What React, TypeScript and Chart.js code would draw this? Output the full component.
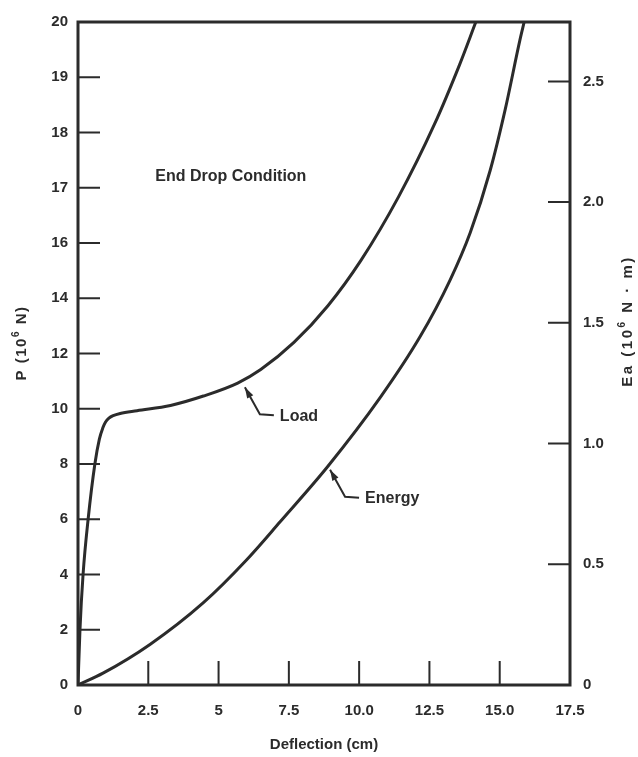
import React, { useEffect, useRef } from "react";
import { Chart, registerables } from "chart.js";

Chart.register(...registerables);

// ---- data ----
const xTickValues = [0, 2.5, 5, 7.5, 10, 12.5, 15, 17.5];
const xTickLabels = ["0", "2.5", "5", "7.5", "10.0", "12.5", "15.0", "17.5"];
// left axis is drawn with 13 equally spaced marks; the printed labels are these
const pTickValues = [0, 2, 4, 6, 8, 10, 12, 14, 16, 18, 20, 22, 24];
const pTickLabels = ["0", "2", "4", "6", "8", "10", "12", "14", "16", "17", "18", "19", "20"];
const eaTickValues = [0, 0.5, 1.0, 1.5, 2.0, 2.5];
const eaTickLabels = ["0", "0.5", "1.0", "1.5", "2.0", "2.5"];

// Load curve (deflection cm, position on the evenly spaced P scale)
const loadDeflection = [0, 0.07, 0.18, 0.36, 0.6, 0.76, 0.88, 0.98, 1.1, 1.25, 1.5, 2.1, 3.29, 4.46, 5.68, 6.5, 7.68, 8.89, 10.07, 11.4, 12.68, 13.57, 14.15];
const loadP = [0, 2, 4, 6, 8, 8.9, 9.3, 9.52, 9.66, 9.75, 9.83, 9.93, 10.12, 10.46, 10.93, 11.42, 12.4, 13.73, 15.38, 17.67, 20.3, 22.45, 24];

// Energy curve (deflection cm, Ea 10^6 N·m)
const energyDeflection = [0, 0.89, 2.56, 4.45, 6.01, 7.19, 8.89, 10.74, 12.17, 13.23, 13.95, 14.66, 15.19, 15.72, 15.87];
const energyEa = [0, 0.049, 0.168, 0.34, 0.52, 0.676, 0.906, 1.189, 1.443, 1.676, 1.873, 2.131, 2.381, 2.672, 2.746];

const EA_MAX = 2.746;
const INK = "#2b2b2b";
const FONT = '"Liberation Sans", Arial, Helvetica, sans-serif';

const decorPlugin = {
  id: "decor",
  afterDatasetsDraw(chart: any) {
    const { ctx, chartArea: a, scales } = chart;
    const x = scales.x, y = scales.y, y2 = scales.y2;
    ctx.save();
    ctx.strokeStyle = INK;
    ctx.fillStyle = INK;
    // frame
    ctx.lineWidth = 3;
    ctx.strokeRect(a.left, a.top, a.right - a.left, a.bottom - a.top);
    // inward ticks
    ctx.lineWidth = 2;
    ctx.beginPath();
    pTickValues.forEach((v) => {
      if (v <= 0 || v >= 24) return;
      const py = y.getPixelForValue(v);
      ctx.moveTo(a.left, py);
      ctx.lineTo(a.left + 22, py);
    });
    eaTickValues.forEach((v) => {
      if (v <= 0) return;
      const py = y2.getPixelForValue(v);
      ctx.moveTo(a.right, py);
      ctx.lineTo(a.right - 22, py);
    });
    xTickValues.forEach((v) => {
      if (v <= 0 || v >= 17.5) return;
      const px = x.getPixelForValue(v);
      ctx.moveTo(px, a.bottom);
      ctx.lineTo(px, a.bottom - 24);
    });
    ctx.stroke();

    // axis titles (read bottom to top)
    const drawVert = (text: string, sup: string, rest: string, cx: number, cy: number, spacing: number) => {
      ctx.save();
      ctx.translate(cx, cy);
      ctx.rotate(-Math.PI / 2);
      ctx.textBaseline = "middle";
      ctx.textAlign = "left";
      (ctx as any).letterSpacing = spacing + "px";
      const f1 = `bold 15px ${FONT}`;
      const f2 = `bold 10px ${FONT}`;
      ctx.font = f1;
      const w1 = ctx.measureText(text).width;
      const w3 = ctx.measureText(rest).width;
      ctx.font = f2;
      const w2 = ctx.measureText(sup).width;
      const total = w1 + w2 + w3;
      let sx = -total / 2;
      ctx.font = f1;
      ctx.fillText(text, sx, 0);
      sx += w1;
      ctx.font = f2;
      ctx.fillText(sup, sx, -6);
      sx += w2;
      ctx.font = f1;
      ctx.fillText(rest, sx, 0);
      ctx.restore();
    };
    drawVert("P (10", "6", " N)", 22, 343, 1.5);
    drawVert("Ea (10", "6", " N \u00b7 m)", 628, 321, 2.5);

    ctx.font = `bold 15px ${FONT}`;
    ctx.textAlign = "center";
    ctx.textBaseline = "middle";
    ctx.fillText("Deflection (cm)", (a.left + a.right) / 2, 745);

    // annotations
    ctx.font = `bold 16px ${FONT}`;
    ctx.textAlign = "left";
    ctx.fillText("End Drop Condition", x.getPixelForValue(2.75), y.getPixelForValue(18.4));

    const callout = (dx: number, dy: number, isEa: boolean, label: string) => {
      const tx = x.getPixelForValue(dx) + 1;
      const ty = (isEa ? y2 : y).getPixelForValue(dy) + 2;
      const ex = tx + 15, ey = ty + 27;
      const hx = tx + 29, hy = ey + 1;
      ctx.lineWidth = 2;
      ctx.beginPath();
      ctx.moveTo(tx, ty);
      ctx.lineTo(ex, ey);
      ctx.lineTo(hx, hy);
      ctx.stroke();
      // arrow head
      const ang = Math.atan2(ey - ty, ex - tx);
      const L = 11, W = 3.5;
      ctx.beginPath();
      ctx.moveTo(tx, ty);
      ctx.lineTo(tx + L * Math.cos(ang) - W * Math.sin(ang), ty + L * Math.sin(ang) + W * Math.cos(ang));
      ctx.lineTo(tx + L * Math.cos(ang) + W * Math.sin(ang), ty + L * Math.sin(ang) - W * Math.cos(ang));
      ctx.closePath();
      ctx.fill();
      ctx.fillText(label, hx + 6, hy + 1);
    };
    callout(5.9, 10.85, false, "Load");
    callout(8.93, 0.9, true, "Energy");
    ctx.restore();
  },
};

export default function App() {
  const ref = useRef<HTMLCanvasElement | null>(null);
  useEffect(() => {
    document.body.style.margin = "0";
    document.body.style.background = "#ffffff";
    const canvas = ref.current!;
    const tickFont = { family: FONT, weight: "bold", size: 15 };
    const chart = new Chart(canvas, {
      type: "line",
      data: {
        datasets: [
          {
            label: "Load",
            data: loadDeflection.map((d, i) => ({ x: d, y: loadP[i] })),
            yAxisID: "y",
            borderColor: INK,
            borderWidth: 3,
            pointRadius: 0,
            fill: false,
            cubicInterpolationMode: "monotone",
          },
          {
            label: "Energy",
            data: energyDeflection.map((d, i) => ({ x: d, y: energyEa[i] })),
            yAxisID: "y2",
            borderColor: INK,
            borderWidth: 3,
            pointRadius: 0,
            fill: false,
            cubicInterpolationMode: "monotone",
          },
        ],
      },
      options: {
        responsive: false,
        animation: false,
        layout: { padding: { top: 16, right: 0, left: 0, bottom: 0 } },
        plugins: { legend: { display: false }, tooltip: { enabled: false } },
        scales: {
          x: {
            type: "linear",
            min: 0,
            max: 17.5,
            afterBuildTicks: (s: any) => {
              s.ticks = xTickValues.map((v) => ({ value: v }));
            },
            afterFit: (s: any) => {
              s.height = 72;
            },
            grid: { display: false, drawTicks: false },
            border: { display: false },
            ticks: {
              padding: 17,
              maxRotation: 0,
              autoSkip: false,
              color: INK,
              font: tickFont,
              callback: (v: any) => xTickLabels[xTickValues.indexOf(Number(v))] ?? "",
            },
          },
          y: {
            type: "linear",
            position: "left",
            min: 0,
            max: 24,
            afterBuildTicks: (s: any) => {
              s.ticks = pTickValues.map((v) => ({ value: v }));
            },
            afterFit: (s: any) => {
              s.width = 78;
            },
            grid: { display: false, drawTicks: false },
            border: { display: false },
            ticks: {
              padding: 10,
              autoSkip: false,
              color: INK,
              font: tickFont,
              callback: (v: any) => pTickLabels[pTickValues.indexOf(Number(v))] ?? "",
            },
          },
          y2: {
            type: "linear",
            position: "right",
            min: 0,
            max: EA_MAX,
            afterBuildTicks: (s: any) => {
              s.ticks = eaTickValues.map((v) => ({ value: v }));
            },
            afterFit: (s: any) => {
              s.width = 68;
            },
            grid: { display: false, drawTicks: false },
            border: { display: false },
            ticks: {
              padding: 13,
              autoSkip: false,
              color: INK,
              font: tickFont,
              callback: (v: any) => eaTickLabels[eaTickValues.indexOf(Number(v))] ?? "",
            },
          },
        },
      },
      plugins: [decorPlugin],
    } as any);
    return () => chart.destroy();
  }, []);
  return (
    <div style={{ width: 638, height: 757, background: "#fff" }}>
      <canvas ref={ref} width={638} height={757} style={{ display: "block" }} />
    </div>
  );
}
